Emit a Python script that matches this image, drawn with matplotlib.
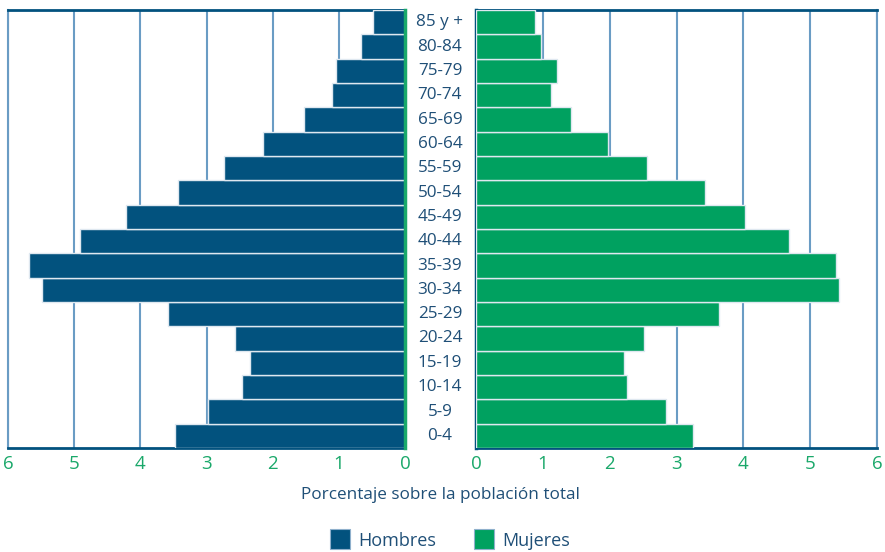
import matplotlib
matplotlib.use("Agg")
import matplotlib.pyplot as plt
from matplotlib.transforms import blended_transform_factory
from matplotlib.patches import Rectangle

plt.rcParams['font.family'] = ['Open Sans', 'DejaVu Sans']

age_groups = ["0-4", "5-9", "10-14", "15-19", "20-24", "25-29", "30-34", "35-39",
              "40-44", "45-49", "50-54", "55-59", "60-64", "65-69", "70-74",
              "75-79", "80-84", "85 y +"]
hombres = [3.48, 2.97, 2.46, 2.34, 2.57, 3.58, 5.48, 5.69, 4.91, 4.21, 3.43,
           2.73, 2.14, 1.52, 1.10, 1.04, 0.66, 0.48]
mujeres = [3.25, 2.84, 2.26, 2.22, 2.52, 3.63, 5.43, 5.39, 4.68, 4.03, 3.43,
           2.56, 1.97, 1.42, 1.12, 1.21, 0.97, 0.88]
ticks = [0, 1, 2, 3, 4, 5, 6]
xlabel = "Porcentaje sobre la población total"
legend_labels = ["Hombres", "Mujeres"]

c_h = "#02527e"
c_m = "#00a160"
c_dark = "#02527e"
c_grid = "#6a9cc4"
c_tick = "#1aa86a"
c_text = "#1f4f77"

W, H = 885, 552
fig = plt.figure(figsize=(W / 100, H / 100), dpi=100)
axL = fig.add_axes([8 / W, 1 - 448 / H, 397 / W, 438 / H])
axR = fig.add_axes([476 / W, 1 - 448 / H, 401 / W, 438 / H])

y = list(range(len(age_groups)))
for ax, vals, col in ((axL, hombres, c_h), (axR, mujeres, c_m)):
    ax.barh(y, vals, height=1.0, color=col, edgecolor="#dfe8f0", linewidth=1.0, zorder=3)
    ax.set_xlim(0, 6)
    ax.set_ylim(-0.5, len(age_groups) - 0.5)
    ax.set_xticks(ticks)
    ax.set_xticklabels([str(t) for t in ticks], color=c_tick, fontsize=13.5)
    ax.tick_params(axis="x", length=0, pad=5)
    ax.set_yticks([])
    for t in ticks[1:]:
        ax.axvline(t, color=c_grid, lw=1.5, zorder=1)
    for s in ax.spines.values():
        s.set_linewidth(2)
    ax.spines["top"].set_color(c_dark)
    ax.spines["bottom"].set_color(c_dark)

axL.invert_xaxis()
axL.spines["left"].set_color(c_grid)
axL.spines["left"].set_linewidth(1.5)
axL.spines["right"].set_color(c_tick)
axL.spines["right"].set_linewidth(2.5)
axL.spines["right"].set_zorder(5)
axR.spines["left"].set_color(c_dark)
axR.spines["left"].set_linewidth(2.5)
axR.spines["right"].set_color(c_grid)
axR.spines["right"].set_linewidth(1.5)

tr = blended_transform_factory(fig.transFigure, axL.transData)
for i, lab in enumerate(age_groups):
    fig.text(440 / W, i, lab, transform=tr, ha="center", va="center",
             color=c_text, fontsize=12.3)

fig.text(440 / W, 1 - 495 / H, xlabel, ha="center", va="center",
         color=c_text, fontsize=12.3)

# legend
for (x0, col, lab) in ((330, c_h, legend_labels[0]), (474, c_m, legend_labels[1])):
    fig.patches.append(Rectangle((x0 / W, 1 - 549 / H), 20 / W, 20 / H,
                                 transform=fig.transFigure, facecolor=col,
                                 edgecolor="#8fb0cc", linewidth=0.8))
    fig.text((x0 + 28) / W, 1 - 541 / H, lab, ha="left", va="center",
             color=c_text, fontsize=13)

fig.savefig("out.png", dpi=100)
